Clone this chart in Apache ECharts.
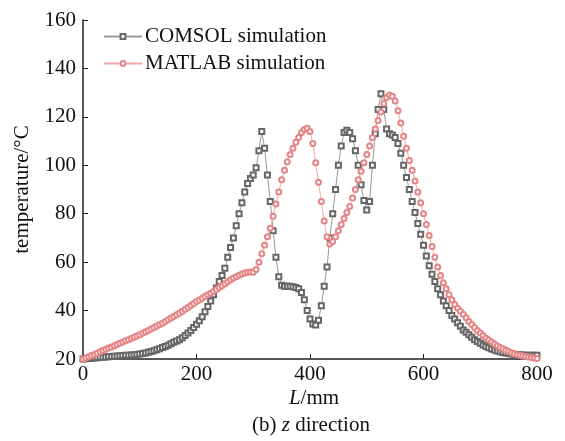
<!DOCTYPE html>
<html>
<head>
<meta charset="utf-8">
<script src="https://cdn.jsdelivr.net/npm/echarts@6/dist/echarts.min.js"></script>
<style>
  html, body { margin: 0; padding: 0; background: #fff; }
  #chartBox { width: 565px; height: 441px; }
</style>
</head>
<body>
<div id="chartBox"></div>
<script>
// position along z, mm (sampled every 5 mm)
var lengthMm = [];
for (var i = 0; i <= 160; i++) lengthMm.push(i * 5);

var comsolTemp = [
  20, 20.1, 20.2, 20.3, 20.4, 20.5, 20.6, 20.7, 20.8, 20.9,
  21, 21.1, 21.2, 21.3, 21.4, 21.5, 21.6, 21.7, 21.8, 21.9,
  22.1, 22.3, 22.5, 22.8, 23.1, 23.4, 23.8, 24.2, 24.7, 25.2,
  25.7, 26.3, 26.9, 27.4, 28, 28.8, 29.7, 30.7, 31.8, 33,
  34.3, 35.8, 37.5, 39.5, 41.7, 44, 46.5, 49.3, 52, 54.5,
  57.5, 62, 66, 70, 75, 80, 84.5, 89, 92.5, 94.5,
  96, 99, 106, 114, 107, 96, 85, 73, 62, 54,
  50.5, 50, 50, 50, 49.8, 49.5, 49, 47.5, 44.5, 40,
  36.5, 34.5, 34, 36, 42, 50, 58, 70, 80, 90,
  100, 108, 113.5, 114.5, 113.5, 111, 106, 100, 92, 85.5,
  81.5, 85, 100, 113, 123, 129.5, 123, 115, 113, 112.5,
  111.5, 109, 105, 100, 95, 90, 85, 80.5, 76, 71.5,
  67, 62.5, 58.5, 55, 52, 49, 46.5, 44, 42, 40,
  38, 36.5, 35, 33.5, 32, 31, 30, 29, 28, 27.2,
  26.5, 25.8, 25.2, 24.6, 24.1, 23.7, 23.3, 23, 22.7, 22.5,
  22.3, 22.1, 22, 21.9, 21.8, 21.7, 21.6, 21.6, 21.5, 21.5,
  21.5
];

var matlabTemp = [
  20, 20.4, 20.9, 21.4, 21.9, 22.4, 23, 23.5, 24, 24.5,
  25, 25.5, 26, 26.5, 27, 27.5, 28, 28.5, 29, 29.5,
  30, 30.6, 31.2, 31.8, 32.4, 33, 33.6, 34.2, 34.8, 35.5,
  36.2, 36.9, 37.6, 38.3, 39, 39.7, 40.5, 41.3, 42.1, 42.9,
  43.7, 44.4, 45.1, 45.8, 46.5, 47.2, 47.9, 48.7, 49.5, 50.3,
  51.1, 51.9, 52.7, 53.4, 54, 54.6, 55.1, 55.5, 55.8, 55.9,
  55.8, 57, 60, 63.5, 67, 70.5, 74, 79, 84, 89,
  94, 98, 101.5, 104.5, 107, 109.5, 111.5, 113.5, 114.8, 115.3,
  114, 109, 101, 93, 85, 77, 70.5, 67.5, 68.5, 70.5,
  73, 75.5, 78, 80.5, 83, 86.5, 90, 94, 97.5, 101,
  104.5, 108, 111.5, 115, 118.5, 122, 125.5, 128, 129, 128.5,
  126.5, 122.5, 117.5, 112, 107, 102, 98, 93.5, 89, 84.5,
  80, 75.5, 71, 66.5, 62, 58, 54.5, 51.5, 49, 46.5,
  44.5, 42.5, 41, 39.7, 38.5, 37, 35.5, 34.2, 33, 31.8,
  30.7, 29.7, 28.7, 27.8, 27, 26.2, 25.5, 24.8, 24.2, 23.6,
  23.1, 22.6, 22.2, 21.8, 21.5, 21.2, 21, 20.8, 20.6, 20.4,
  20.2
];

var xTicks = [0, 200, 400, 600, 800];

function pairs(xs, ys) {
  var out = [];
  for (var k = 0; k < xs.length; k++) out.push([xs[k], ys[k]]);
  return out;
}

var serif = "'Liberation Serif', 'DejaVu Serif', serif";

var option = {
  animation: false,
  title: [
    {
      text: "{i|L}/mm",
      left: 309, top: 383, textAlign: "center",
      textStyle: {
        fontFamily: serif, fontSize: 21, fontWeight: "normal", color: "#111",
        rich: { i: { fontFamily: serif, fontSize: 21, fontStyle: "italic", color: "#111" } }
      }
    },
    {
      text: "(b) {i|z} direction",
      left: 306, top: 410, textAlign: "center",
      textStyle: {
        fontFamily: serif, fontSize: 21, fontWeight: "normal", color: "#111",
        rich: { i: { fontFamily: serif, fontSize: 21, fontStyle: "italic", color: "#111" } }
      }
    }
  ],
  legend: {
    left: 98, top: 21, orient: "vertical",
    itemWidth: 38, itemHeight: 6, itemGap: 6,
    textStyle: { fontFamily: serif, fontSize: 21, color: "#111", padding: [0, 0, 0, -2] },
    data: ["COMSOL simulation", "MATLAB simulation"]
  },
  grid: { left: 83, right: 28, top: 20, bottom: 82 },
  xAxis: {
    type: "value", min: 0, max: 800, interval: 200,
    axisLine: { lineStyle: { color: "#222", width: 1.5 } },
    axisTick: { inside: true, length: 5, lineStyle: { color: "#222" } },
    axisLabel: {
      fontFamily: serif, fontSize: 21, color: "#111", margin: 5,
      customValues: xTicks
    },
    splitLine: { show: false }
  },
  yAxis: {
    type: "value", min: 20, max: 160, interval: 20,
    name: "temperature/°C", nameLocation: "middle", nameGap: 50,
    nameTextStyle: { fontFamily: serif, fontSize: 21, color: "#111" },
    axisLine: { show: true, lineStyle: { color: "#222", width: 1.5 } },
    axisTick: { show: true, inside: true, length: 5, lineStyle: { color: "#222" } },
    axisLabel: { fontFamily: serif, fontSize: 21, color: "#111", margin: 7 },
    splitLine: { show: false }
  },
  series: [
    {
      name: "COMSOL simulation",
      type: "line",
      data: pairs(lengthMm, comsolTemp),
      symbol: "emptyRect", symbolSize: 5,
      itemStyle: { color: "#666", borderColor: "#666", borderWidth: 1 },
      lineStyle: { color: "#999", width: 1 }
    },
    {
      name: "MATLAB simulation",
      type: "line",
      data: pairs(lengthMm, matlabTemp),
      symbol: "emptyCircle", symbolSize: 5,
      itemStyle: { color: "#e58585", borderColor: "#e58585", borderWidth: 1 },
      lineStyle: { color: "#f0a8a8", width: 1 }
    }
  ]
};

var chartLine = echarts.init(document.getElementById("chartBox"));
chartLine.setOption(option);
</script>
</body>
</html>
